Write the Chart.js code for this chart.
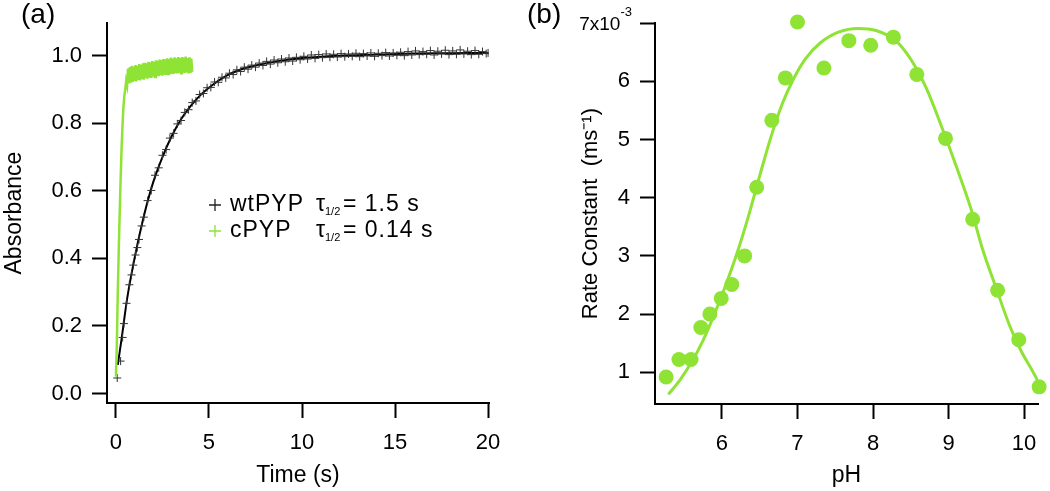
<!DOCTYPE html>
<html>
<head>
<meta charset="utf-8">
<script src="https://cdn.jsdelivr.net/npm/chart.js@4.4.1/dist/chart.umd.min.js"></script>
<style>
  html, body { margin: 0; padding: 0; background: #fff; }
  #wrap { position: relative; width: 1050px; height: 491px; }
  canvas { position: absolute; top: 0; }
  #chartA { left: 0; }
  #chartB { left: 520px; }
</style>
</head>
<body>
<div id="wrap">
  <canvas id="chartA" width="520" height="491"></canvas>
  <canvas id="chartB" width="530" height="491"></canvas>
</div>
<script>
// ---- panel (a): absorbance recovery ----
const timeTicks = [0, 5, 10, 15, 20];
const absTicks = [0, 0.2, 0.4, 0.6, 0.8, 1.0];

// wtPYP measured points (+ markers)
const wtTime = [0.07, 0.25, 0.36, 0.43, 0.57, 0.72, 0.84, 0.93, 1.05, 1.15, 1.24, 1.38,
  1.5, 1.7, 1.9, 2.1, 2.3, 2.5, 2.7, 2.9, 3.1, 3.3, 3.5, 3.7, 3.9, 4.1, 4.3, 4.5, 4.7, 4.9,
  5.1, 5.3, 5.5, 5.7, 5.9, 6.1, 6.3, 6.5, 6.7, 6.9, 7.1, 7.3, 7.5, 7.7, 7.9, 8.1, 8.3, 8.5,
  8.7, 8.9, 9.1, 9.3, 9.5, 9.7, 9.9, 10.1, 10.3, 10.5, 10.7, 10.9, 11.1, 11.3, 11.5, 11.7,
  11.9, 12.1, 12.3, 12.5, 12.7, 12.9, 13.1, 13.3, 13.5, 13.7, 13.9, 14.1, 14.3, 14.5, 14.7,
  14.9, 15.1, 15.3, 15.5, 15.7, 15.9, 16.1, 16.3, 16.5, 16.7, 16.9, 17.1, 17.3, 17.5, 17.7,
  17.9, 18.1, 18.3, 18.5, 18.7, 18.9, 19.1, 19.3, 19.5, 19.7, 19.9, 20.0];
const wtAbs = [0.046, 0.096, 0.166, 0.207, 0.267, 0.322, 0.351, 0.38, 0.41, 0.432, 0.456, 0.496,
  0.522, 0.571, 0.601, 0.646, 0.668, 0.705, 0.722, 0.756, 0.770, 0.798, 0.808, 0.832, 0.840,
  0.861, 0.866, 0.885, 0.888, 0.905, 0.906, 0.922, 0.921, 0.936, 0.934, 0.948, 0.944, 0.958,
  0.953, 0.966, 0.960, 0.972, 0.966, 0.978, 0.971, 0.983, 0.975, 0.987, 0.979, 0.990, 0.982,
  0.993, 0.984, 0.995, 0.988, 0.998, 0.990, 1.002, 0.992, 1.003, 0.994, 1.005, 0.995, 1.004,
  0.996, 1.006, 0.997, 1.005, 0.998, 1.007, 0.997, 1.006, 0.999, 1.008, 0.998, 1.007, 1.000,
  1.009, 0.999, 1.008, 1.001, 1.010, 1.000, 1.012, 1.002, 1.014, 1.003, 1.012, 1.004, 1.015,
  1.002, 1.013, 1.005, 1.016, 1.003, 1.014, 1.004, 1.017, 1.005, 1.013, 1.003, 1.015, 1.004,
  1.012, 1.006, 1.008];

// wtPYP fitted curve
const wtFitTime = [0.1, 0.3, 0.6, 1.0, 1.5, 2.0, 2.5, 3.0, 3.5, 4.0, 4.5, 5.0, 6.0, 7.0, 8.0,
  9.0, 10.0, 12.0, 14.0, 16.0, 18.0, 20.0];
const wtFitAbs = [0.085, 0.16, 0.28, 0.40, 0.525, 0.625, 0.70, 0.762, 0.812, 0.85, 0.881, 0.905,
  0.942, 0.964, 0.977, 0.986, 0.993, 1.000, 1.003, 1.006, 1.007, 1.008];

// cPYP trace (dense, noisy)
const cTime = [0, 0.05, 0.10, 0.15, 0.20, 0.25, 0.30, 0.35, 0.40, 0.45, 0.50, 0.55, 0.60, 0.65,
  0.70, 0.75, 0.80, 0.85, 0.90, 0.95, 1.00, 1.05, 1.10, 1.15, 1.20, 1.25, 1.30, 1.35, 1.40, 1.45,
  1.50, 1.55, 1.60, 1.65, 1.70, 1.75, 1.80, 1.85, 1.90, 1.95, 2.00, 2.05, 2.10, 2.15, 2.20, 2.25,
  2.30, 2.35, 2.40, 2.45, 2.50, 2.55, 2.60, 2.65, 2.70, 2.75, 2.80, 2.85, 2.90, 2.95, 3.00, 3.05,
  3.10, 3.15, 3.20, 3.25, 3.30, 3.35, 3.40, 3.45, 3.50, 3.55, 3.60, 3.65, 3.70, 3.75, 3.80, 3.85,
  3.90, 3.95, 4.00, 4.05, 4.10];
const cAbs = [0.05, 0.15, 0.30, 0.42, 0.53, 0.63, 0.72, 0.79, 0.845, 0.88, 0.90, 0.925, 0.912,
  0.962, 0.918, 0.966, 0.920, 0.970, 0.922, 0.968, 0.925, 0.972, 0.924, 0.970, 0.928, 0.975,
  0.927, 0.973, 0.930, 0.977, 0.929, 0.979, 0.933, 0.977, 0.932, 0.982, 0.935, 0.980, 0.934,
  0.984, 0.938, 0.982, 0.937, 0.986, 0.940, 0.985, 0.939, 0.988, 0.942, 0.987, 0.941, 0.990,
  0.944, 0.989, 0.943, 0.992, 0.946, 0.990, 0.945, 0.994, 0.947, 0.991, 0.946, 0.995, 0.948,
  0.992, 0.947, 0.996, 0.949, 0.993, 0.948, 0.996, 0.950, 0.994, 0.949, 0.997, 0.950, 0.993,
  0.947, 0.995, 0.949, 0.991, 0.952];

const legendNames = ['wtPYP', 'cPYP'];
const legendHalfLives = ['= 1.5 s', '= 0.14 s'];

// ---- panel (b): rate constant vs pH ----
const phTicks = [6, 7, 8, 9, 10];
const rateTicks = [1, 2, 3, 4, 5, 6, 7];
const phPoints = [5.26, 5.43, 5.59, 5.72, 5.84, 5.99, 6.13, 6.30, 6.46, 6.66, 6.84, 7.00, 7.35,
  7.68, 7.97, 8.27, 8.58, 8.96, 9.32, 9.65, 9.93, 10.20];
const ratePoints = [0.92, 1.22, 1.22, 1.77, 2.00, 2.27, 2.51, 3.00, 4.18, 5.33, 6.06, 7.02, 6.23,
  6.70, 6.62, 6.76, 6.12, 5.02, 3.63, 2.41, 1.56, 0.75];
const phFit = [5.29, 5.45, 5.60, 5.75, 5.90, 6.05, 6.20, 6.35, 6.50, 6.65, 6.80, 6.95, 7.10,
  7.30, 7.55, 7.80, 8.05, 8.30, 8.50, 8.70, 8.90, 9.10, 9.30, 9.45, 9.63, 9.81, 9.96, 10.10, 10.18];
const rateFit = [0.62, 0.88, 1.18, 1.55, 2.00, 2.50, 3.05, 3.68, 4.38, 5.05, 5.62, 6.05, 6.38,
  6.66, 6.85, 6.91, 6.87, 6.70, 6.38, 5.90, 5.25, 4.55, 3.80, 3.12, 2.45, 1.80, 1.37, 1.05, 0.86];

const GREEN = '#8ee335';
const FONT = "'Liberation Sans', Arial, sans-serif";

Chart.defaults.font.family = FONT;
Chart.defaults.font.size = 22;
Chart.defaults.color = '#000';

function pairs(xs, ys) {
  return xs.map((x, i) => ({ x: x, y: ys[i] }));
}

function axis(extra) {
  return Object.assign({
    type: 'linear',
    border: { display: true, color: '#000', width: 2 },
    grid: { drawOnChartArea: false, drawTicks: true, tickLength: 15, tickWidth: 2, tickColor: '#000' },
  }, extra);
}

// panel letter
const panelLabel = {
  id: 'panelLabel',
  afterDraw(chart, args, opts) {
    const ctx = chart.ctx;
    ctx.save();
    ctx.font = '28px ' + FONT;
    ctx.fillStyle = '#000';
    ctx.textBaseline = 'middle';
    ctx.fillText(opts.text, opts.x, opts.y);
    ctx.restore();
  }
};

// legend with tau 1/2 subscripts
const legendA = {
  id: 'legendA',
  afterDraw(chart) {
    const ctx = chart.ctx;
    const colours = ['#222', GREEN];
    ctx.save();
    ctx.textBaseline = 'middle';
    legendNames.forEach((name, i) => {
      const y = 205 + i * 26;
      ctx.strokeStyle = colours[i];
      ctx.lineWidth = 1.3;
      ctx.beginPath();
      ctx.moveTo(209, y); ctx.lineTo(221, y);
      ctx.moveTo(215, y - 6); ctx.lineTo(215, y + 6);
      ctx.stroke();
      ctx.fillStyle = '#000';
      ctx.font = '23px ' + FONT;
      ctx.letterSpacing = '1px';
      ctx.fillText(name, 230, y);
      ctx.fillText('\u03c4', 316, y);
      ctx.fillText(legendHalfLives[i], 343, y);
      ctx.letterSpacing = '0px';
      ctx.font = '11px ' + FONT;
      ctx.fillText('1/2', 325, y + 7);
    });
    ctx.restore();
  }
};

// "7x10^-3" label at the top tick of panel (b)
const topTickLabel = {
  id: 'topTickLabel',
  afterDraw(chart) {
    const s = chart.scales.y;
    const ctx = chart.ctx;
    const y = s.getPixelForValue(rateTicks[rateTicks.length - 1]);
    const xr = s.right - 15 - 10;
    ctx.save();
    ctx.fillStyle = '#000';
    ctx.textBaseline = 'middle';
    ctx.font = '13px ' + FONT;
    ctx.textAlign = 'right';
    ctx.fillText('-3', xr + 2, y - 11);
    const w = ctx.measureText('-3').width;
    ctx.font = '19px ' + FONT;
    ctx.fillText('7x10', xr + 2 - w, y + 2);
    ctx.restore();
  }
};

new Chart(document.getElementById('chartA'), {
  type: 'scatter',
  data: {
    datasets: [
      {
        label: 'cPYP',
        data: pairs(cTime, cAbs),
        showLine: true,
        borderColor: GREEN,
        borderWidth: 2.5,
        pointRadius: 0,
        tension: 0
      },
      {
        label: 'wtPYP',
        data: pairs(wtTime, wtAbs),
        showLine: false,
        pointStyle: 'cross',
        pointRadius: 4,
        borderColor: '#333',
        borderWidth: 1,
        backgroundColor: '#333'
      },
      {
        label: 'wtPYP fit',
        data: pairs(wtFitTime, wtFitAbs),
        showLine: true,
        borderColor: '#000',
        borderWidth: 2,
        pointRadius: 0,
        cubicInterpolationMode: 'monotone'
      }
    ]
  },
  options: {
    responsive: false,
    animation: false,
    layout: { padding: { top: 15, right: 31, left: 0, bottom: 0 } },
    plugins: {
      legend: { display: false },
      tooltip: { enabled: false },
      panelLabel: { text: '(a)', x: 21, y: 15 }
    },
    scales: {
      x: axis({
        min: -0.48, max: 20.05,
        afterBuildTicks: s => { s.ticks = timeTicks.map(v => ({ value: v })); },
        afterFit: s => { s.height = 88; },
        ticks: { padding: 12, callback: v => String(v) },
        title: { display: true, text: 'Time (s)', font: { size: 23 }, padding: { top: 0, bottom: 2 } }
      }),
      y: axis({
        min: -0.028, max: 1.096,
        afterBuildTicks: s => { s.ticks = absTicks.map(v => ({ value: v })); },
        afterFit: s => { s.width = 107; },
        ticks: { padding: 10, callback: v => v.toFixed(1) },
        title: { display: true, text: 'Absorbance', font: { size: 23 }, padding: { top: 1, bottom: 0 } }
      })
    }
  },
  plugins: [panelLabel, legendA]
});

new Chart(document.getElementById('chartB'), {
  type: 'scatter',
  data: {
    datasets: [
      {
        label: 'fit',
        data: pairs(phFit, rateFit),
        showLine: true,
        borderColor: GREEN,
        borderWidth: 3,
        pointRadius: 0,
        cubicInterpolationMode: 'monotone'
      },
      {
        label: 'rate',
        data: pairs(phPoints, ratePoints),
        showLine: false,
        pointRadius: 7.5,
        backgroundColor: GREEN,
        borderWidth: 0,
        clip: false
      }
    ]
  },
  options: {
    responsive: false,
    animation: false,
    layout: { padding: { top: 20, right: 12, left: 55, bottom: 0 } },
    plugins: {
      legend: { display: false },
      tooltip: { enabled: false },
      panelLabel: { text: '(b)', x: 7, y: 15 }
    },
    scales: {
      x: axis({
        min: 5.113, max: 10.185,
        afterBuildTicks: s => { s.ticks = phTicks.map(v => ({ value: v })); },
        afterFit: s => { s.height = 87; },
        ticks: { padding: 12, callback: v => String(v) },
        title: { display: true, text: 'pH', font: { size: 23 }, padding: { top: 0, bottom: 2 } }
      }),
      y: axis({
        min: 0.455, max: 7.0,
        afterBuildTicks: s => { s.ticks = rateTicks.map(v => ({ value: v })); },
        afterFit: s => { s.width = 80; },
        ticks: {
          padding: 10,
          callback: v => v === 7 ? '' : String(v)
        },
        title: { display: true, text: 'Rate Constant  (ms\u207b\u00b9)', font: { size: 22 }, padding: { top: 3, bottom: 0 } }
      })
    }
  },
  plugins: [panelLabel, topTickLabel]
});
</script>
</body>
</html>
